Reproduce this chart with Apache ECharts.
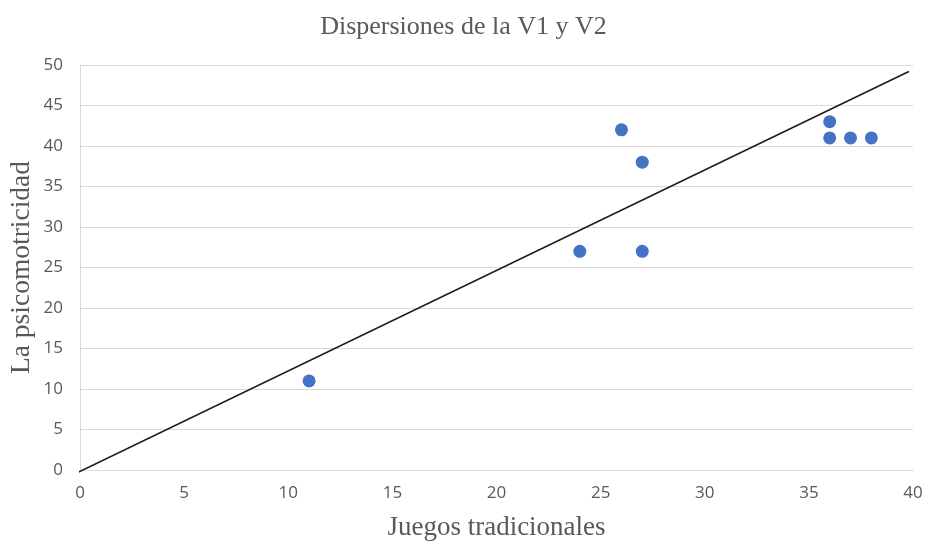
<!DOCTYPE html>
<html>
<head>
<meta charset="utf-8">
<script src="https://cdn.jsdelivr.net/npm/echarts@6/dist/echarts.min.js"></script>
<style>
  html, body { margin: 0; padding: 0; background: #fff; }
  #chart { width: 927px; height: 544px; }
</style>
</head>
<body>
<div id="chart"></div>
<script>
// Juegos tradicionales (V1) vs. La psicomotricidad (V2)
const juegos = [11, 24, 26, 27, 27, 36, 36, 37, 38];
const psicomotricidad = [11, 27, 42, 38, 27, 43, 41, 41, 41];

// Trend line end points (x, y)
const trendX = [-0.15, 39.8];
const trendY = [-0.35, 49.2];

const xTicks = { min: 0, max: 40, interval: 5 };
const yTicks = { min: 0, max: 50, interval: 5 };

const points = juegos.map((x, i) => [x, psicomotricidad[i]]);
const trend = trendX.map((x, i) => [x, trendY[i]]);

const serif = 'Liberation Serif';
const sans = 'Open Sans';

const chart = echarts.init(document.getElementById('chart'));
chart.setOption({
  animation: false,
  backgroundColor: '#ffffff',
  title: {
    text: 'Dispersiones de la V1 y V2',
    left: 'center',
    top: 9,
    textStyle: {
      fontFamily: serif,
      fontWeight: 'normal',
      fontSize: 26,
      color: '#595959'
    }
  },
  grid: {
    left: 80, right: 14, top: 65, bottom: 74,
    containLabel: false,
    outerBoundsMode: 'none'
  },
  xAxis: {
    type: 'value',
    min: xTicks.min, max: xTicks.max, interval: xTicks.interval,
    name: 'Juegos tradicionales',
    nameLocation: 'middle',
    nameGap: 44,
    nameMoveOverlap: false,
    nameTextStyle: { fontFamily: serif, fontSize: 27, color: '#595959' },
    axisLine: { show: true, lineStyle: { color: '#d9d9d9', width: 1 } },
    axisTick: { show: false },
    axisLabel: { fontFamily: sans, fontSize: 17, color: '#595959', margin: 15 },
    splitLine: { show: false }
  },
  yAxis: {
    type: 'value',
    min: yTicks.min, max: yTicks.max, interval: yTicks.interval,
    name: 'La psicomotricidad',
    nameLocation: 'middle',
    nameGap: 44,
    nameMoveOverlap: false,
    nameRotate: 90,
    nameTextStyle: { fontFamily: serif, fontSize: 27.5, color: '#595959' },
    axisLine: { show: true, lineStyle: { color: '#d9d9d9', width: 1 } },
    axisTick: { show: false },
    axisLabel: { fontFamily: sans, fontSize: 17, color: '#595959', margin: 17 },
    splitLine: { show: true, lineStyle: { color: '#d9d9d9', width: 1 } }
  },
  series: [
    {
      name: 'Tendencia',
      type: 'line',
      data: trend,
      clip: false,
      symbol: 'none',
      lineStyle: { color: '#1a1a1a', width: 1.5 },
      z: 3
    },
    {
      name: 'V1 y V2',
      type: 'scatter',
      data: points,
      symbolSize: 13,
      itemStyle: { color: '#4472c4', opacity: 1 },
      z: 4
    }
  ]
});
</script>
</body>
</html>
